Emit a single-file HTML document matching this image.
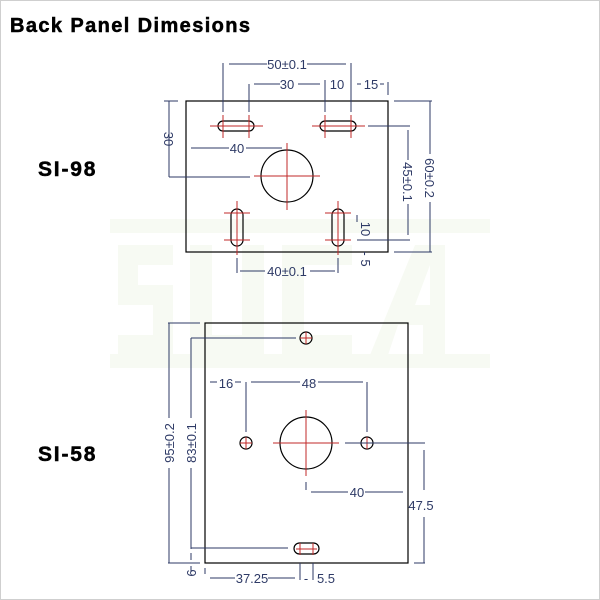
<!DOCTYPE html>
<html><head><style>
html,body{margin:0;padding:0;background:#fff;}
svg{display:block;}
text{font-family:"Liberation Sans",Arial,sans-serif;}
.d{fill:#2e3a66;font-size:13px;}
</style></head><body>
<svg width="600" height="600" viewBox="0 0 600 600" xmlns="http://www.w3.org/2000/svg">
<rect x="0.5" y="0.5" width="599" height="599" fill="#fff" stroke="#cfcfcf"/>
<!-- watermark -->
<g fill="#f7faf3">
<rect x="110" y="219" width="380" height="14"/>
<rect x="110" y="354" width="380" height="14"/>
<path d="M118 245 h55 v20 h-35 v20 h35 v70 h-55 v-20 h35 v-30 h-35z"/>
<path d="M190 245 h22 v90 h30 v-90 h22 v110 h-74z"/>
<path d="M282 245 h70 v20 h-48 v70 h48 v20 h-70z"/>
<path d="M370 355 l45 -110 h30 v110 h-22 v-30 h-25 l-10 30z M430 305 v-40 l-15 40z"/>
</g>
<text x="10" y="32" font-size="20" font-weight="bold" letter-spacing="1.4" fill="#000" stroke="#000" stroke-width="0.5">Back Panel Dimesions</text>
<text x="38" y="176" font-size="21" font-weight="bold" letter-spacing="1.8" fill="#000" stroke="#000" stroke-width="0.5">SI-98</text>
<text x="38" y="461" font-size="21" font-weight="bold" letter-spacing="1.8" fill="#000" stroke="#000" stroke-width="0.5">SI-58</text>

<!-- SI-98 -->
<g fill="none" stroke="#000" stroke-width="1.2">
<rect x="186" y="101" width="202" height="151"/>
<rect x="218" y="121" width="36" height="10" rx="5"/>
<rect x="320" y="121" width="36" height="10" rx="5"/>
<circle cx="287" cy="176" r="26"/>
<rect x="231" y="209" width="12" height="37" rx="6"/>
<rect x="332" y="209" width="12" height="37" rx="6"/>
</g>
<g stroke="#c02828" stroke-width="1">
<line x1="210" y1="126" x2="263" y2="126"/><line x1="223" y1="115" x2="223" y2="138"/><line x1="249" y1="115" x2="249" y2="138"/>
<line x1="312" y1="126" x2="365" y2="126"/><line x1="325" y1="115" x2="325" y2="138"/><line x1="351" y1="115" x2="351" y2="138"/>
<line x1="254" y1="176" x2="320" y2="176"/><line x1="287" y1="143" x2="287" y2="210"/>
<line x1="237" y1="201" x2="237" y2="255"/><line x1="224" y1="213" x2="250" y2="213"/><line x1="224" y1="240" x2="250" y2="240"/>
<line x1="338" y1="201" x2="338" y2="255"/><line x1="325" y1="213" x2="351" y2="213"/><line x1="325" y1="240" x2="351" y2="240"/>
</g>
<g stroke="#2e3a66" stroke-width="1" fill="none">
<line x1="223" y1="63" x2="223" y2="112"/><line x1="351" y1="63" x2="351" y2="112"/>
<line x1="229" y1="64" x2="267" y2="64"/><line x1="307" y1="64" x2="346" y2="64"/>
<line x1="249" y1="84" x2="249" y2="112"/><line x1="325" y1="80" x2="325" y2="112"/>
<line x1="254" y1="84" x2="280" y2="84"/><line x1="298" y1="84" x2="320" y2="84"/>
<line x1="357" y1="84" x2="361" y2="84"/><line x1="380" y1="84" x2="384" y2="84"/>
<line x1="388" y1="82" x2="388" y2="95"/>
<line x1="169" y1="101" x2="169" y2="177"/><line x1="164" y1="101" x2="178" y2="101"/>
<line x1="169" y1="177" x2="250" y2="177"/>
<line x1="191" y1="148" x2="229" y2="148"/><line x1="246" y1="148" x2="282" y2="148"/>
<line x1="368" y1="126" x2="410" y2="126"/><line x1="408" y1="130" x2="408" y2="235"/>
<line x1="357" y1="240" x2="410" y2="240"/>
<line x1="394" y1="101" x2="432" y2="101"/><line x1="394" y1="252" x2="432" y2="252"/>
<line x1="430" y1="101" x2="430" y2="252"/>
<line x1="357" y1="215" x2="357" y2="222"/>
<line x1="237" y1="258" x2="237" y2="273"/><line x1="338" y1="258" x2="338" y2="273"/>
<line x1="240" y1="271" x2="265" y2="271"/><line x1="310" y1="271" x2="335" y2="271"/>
</g>
<g fill="#fff">
<rect x="400" y="160" width="16" height="44"/><rect x="422" y="154" width="16" height="48"/>
</g>
<text class="d" x="287" y="69" text-anchor="middle">50±0.1</text>
<text class="d" x="287" y="89" text-anchor="middle">30</text>
<text class="d" x="337" y="89" text-anchor="middle">10</text>
<text class="d" x="371" y="89" text-anchor="middle">15</text>
<text class="d" x="237" y="153" text-anchor="middle">40</text>
<text class="d" x="287" y="276" text-anchor="middle">40±0.1</text>
<text class="d" transform="translate(164,139) rotate(90)" text-anchor="middle">30</text>
<text class="d" transform="translate(403,182) rotate(90)" text-anchor="middle">45±0.1</text>
<text class="d" transform="translate(425,178) rotate(90)" text-anchor="middle">60±0.2</text>
<text class="d" transform="translate(361,229) rotate(90)" text-anchor="middle">10</text>
<text class="d" transform="translate(361,259) rotate(90)" text-anchor="middle">- 5</text>

<!-- SI-58 -->
<g fill="none" stroke="#000" stroke-width="1.2">
<rect x="205" y="323" width="203" height="240"/>
<circle cx="306" cy="338" r="6"/>
<circle cx="246" cy="443" r="6"/>
<circle cx="367" cy="443" r="6"/>
<circle cx="306" cy="443" r="26"/>
<rect x="294" y="543" width="25" height="11" rx="5.5"/>
</g>
<g stroke="#c02828" stroke-width="1">
<line x1="300" y1="338" x2="312" y2="338"/><line x1="306" y1="332" x2="306" y2="344"/>
<line x1="240" y1="443" x2="252" y2="443"/><line x1="246" y1="437" x2="246" y2="449"/>
<line x1="361" y1="443" x2="373" y2="443"/><line x1="367" y1="437" x2="367" y2="449"/>
<line x1="273" y1="443" x2="339" y2="443"/><line x1="306" y1="410" x2="306" y2="476"/>
<line x1="296" y1="549" x2="317" y2="549"/><line x1="300" y1="543" x2="300" y2="555"/><line x1="313" y1="543" x2="313" y2="555"/>
</g>
<g stroke="#2e3a66" stroke-width="1" fill="none">
<line x1="169" y1="323" x2="169" y2="563"/><line x1="168" y1="323" x2="200" y2="323"/><line x1="168" y1="563" x2="200" y2="563"/>
<line x1="191" y1="338" x2="191" y2="549"/><line x1="191" y1="338" x2="296" y2="338"/><line x1="191" y1="548" x2="288" y2="548"/>
<line x1="191" y1="553" x2="191" y2="560"/><line x1="191" y1="566" x2="191" y2="572"/>
<line x1="210" y1="382" x2="217" y2="382"/><line x1="235" y1="382" x2="241" y2="382"/>
<line x1="246" y1="382" x2="246" y2="432"/>
<line x1="251" y1="382" x2="300" y2="382"/><line x1="318" y1="382" x2="363" y2="382"/>
<line x1="367" y1="382" x2="367" y2="432"/>
<line x1="345" y1="443" x2="425" y2="443"/>
<line x1="424" y1="450" x2="424" y2="490"/><line x1="424" y1="517" x2="424" y2="563"/><line x1="414" y1="563" x2="425" y2="563"/>
<line x1="306" y1="482" x2="306" y2="490"/>
<line x1="311" y1="492" x2="348" y2="492"/><line x1="365" y1="492" x2="403" y2="492"/>
<line x1="205" y1="568" x2="205" y2="574"/>
<line x1="210" y1="578" x2="235" y2="578"/><line x1="268" y1="578" x2="295" y2="578"/>
<line x1="300" y1="563" x2="300" y2="580"/><line x1="313" y1="563" x2="313" y2="580"/>
</g>
<text class="d" x="226" y="388" text-anchor="middle">16</text>
<text class="d" x="309" y="388" text-anchor="middle">48</text>
<text class="d" x="357" y="497" text-anchor="middle">40</text>
<text class="d" x="421" y="510" text-anchor="middle">47.5</text>
<text class="d" x="252" y="583" text-anchor="middle">37.25</text>
<text class="d" x="306" y="583" text-anchor="middle">-</text>
<text class="d" x="326" y="583" text-anchor="middle">5.5</text>
<g fill="#fff"><rect x="162" y="418" width="14" height="50"/><rect x="184" y="418" width="14" height="50"/></g>
<text class="d" transform="translate(174,443) rotate(-90)" text-anchor="middle">95±0.2</text>
<text class="d" transform="translate(196,443) rotate(-90)" text-anchor="middle">83±0.1</text>
<text class="d" transform="translate(196,573) rotate(-90)" text-anchor="middle">6</text>
</svg>
</body></html>
